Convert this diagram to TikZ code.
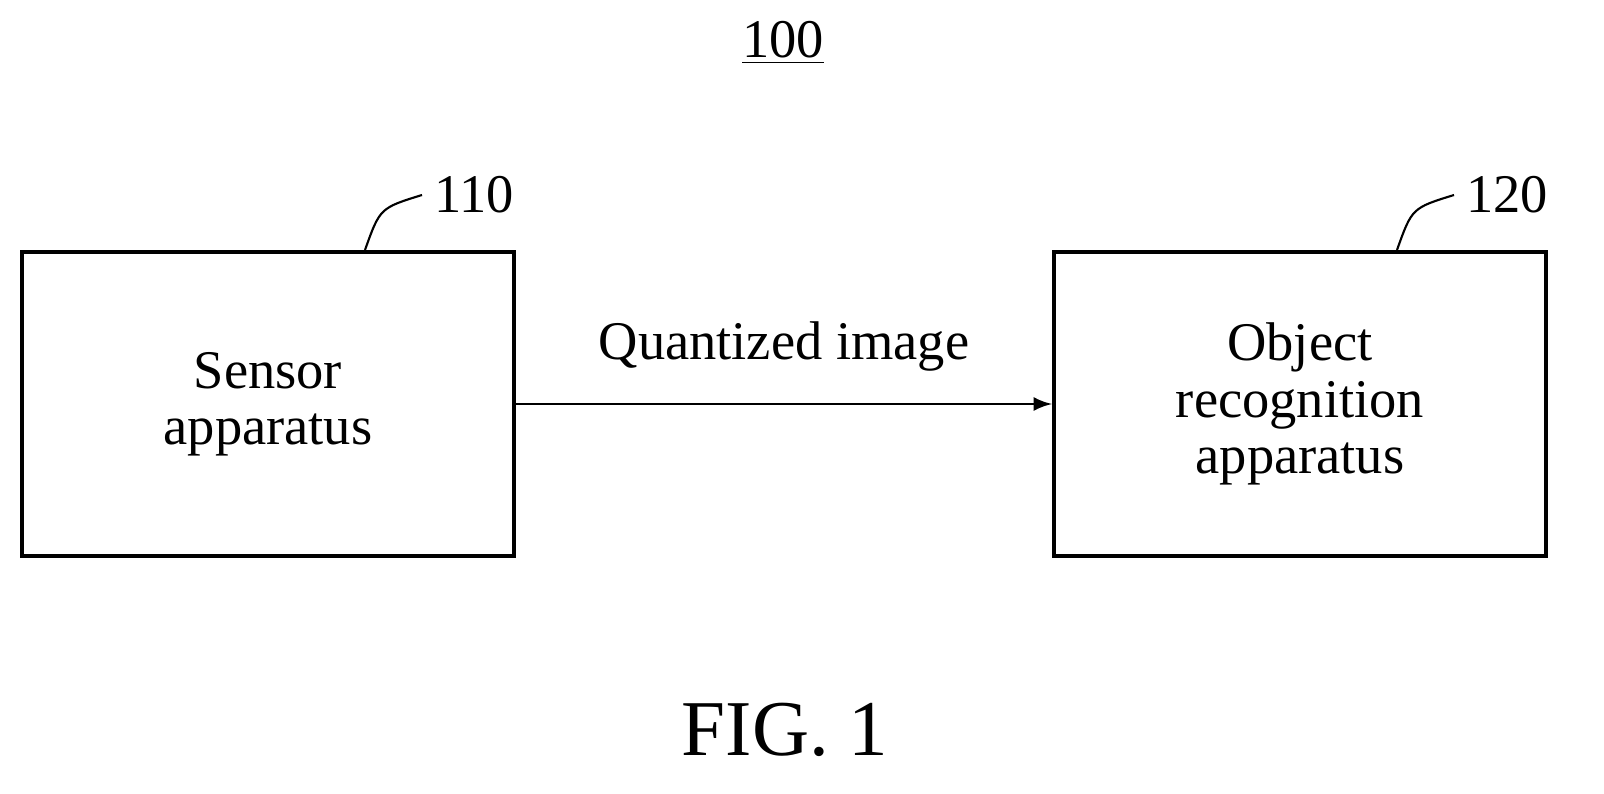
\documentclass[tikz,border=0pt]{standalone}
\usepackage{fontspec}
\setmainfont{Liberation Serif}
\usetikzlibrary{positioning}

\begin{document}
\begin{tikzpicture}
\tikzstyle{blk}=[draw,line width=1.2pt,minimum width=4.92cm,minimum height=3.04cm,align=center,font=\fontsize{15.5}{16}\selectfont]
\tikzstyle{num}=[font=\fontsize{15.5}{16}\selectfont]

\useasboundingbox (0,0) rectangle (16.04,7.93);

\node[blk] (sensor) at (2.68,3.89) {Sensor\\apparatus};
\node[blk] (recog) at (13.0,3.89) {Object\\recognition\\apparatus};

\draw[-latex,line width=0.8pt] (sensor.east) -- (recog.west)
  node[midway,above=0.2cm,num] {Quantized image};

\node[num] (sys) at (7.83,7.5) {\underline{100}};

\node[num,anchor=west] (lbla) at (4.22,5.98) {110};
\node[num,anchor=west] (lblb) at (14.54,5.98) {120};
\coordinate (ta) at (3.65,5.43);
\coordinate (tb) at (13.97,5.43);
\draw[line width=0.6pt] (ta) .. controls (3.8,5.85) .. (lbla.west);
\draw[line width=0.6pt] (tb) .. controls (14.12,5.85) .. (lblb.west);

\node[font=\fontsize{22.5}{24}\selectfont] (fig) at (7.85,0.63) {FIG. 1};
\end{tikzpicture}
\end{document}
